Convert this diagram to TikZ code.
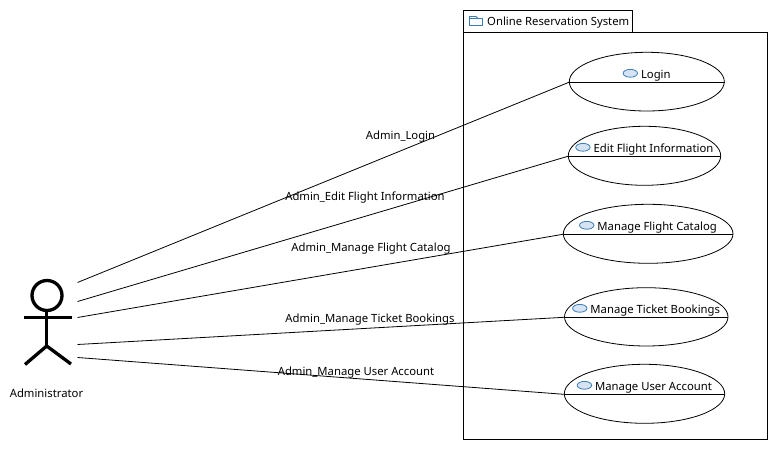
\documentclass[tikz,border=0pt]{standalone}
\usepackage{fontspec}
\setmainfont{Noto Sans}
\usetikzlibrary{shapes.geometric}
\definecolor{iconfill}{HTML}{D5E3F2}
\definecolor{iconline}{HTML}{3A7DB8}
\tikzset{
  x=1pt,y=-1pt,
  every node/.style={font=\fontsize{11.3}{13}\selectfont,inner sep=0pt,text=black},
  uc/.style={draw=black,line width=0.8pt,ellipse,fill=white},
  link/.style={draw=black,line width=0.8pt},
  divider/.style={draw=black,line width=0.8pt},
  actorline/.style={draw=black,line width=3.3pt},
  box/.style={draw=black,line width=0.8pt,fill=white},
  ucicon/.style={draw=iconline,fill=iconfill,line width=0.8pt},
  folder/.style={draw=iconline,fill=white,line width=0.8pt},
  lbl/.style={anchor=base}
}
\newcommand{\ucase}[7]{% name, x1, x2, ytop, ybot, yline, text
  \node[uc,minimum width=#3pt-#2pt,minimum height=#5pt-#4pt] (#1) at ({(#2+#3)/2},{(#4+#5)/2}) {};
  \draw[divider] (#1.west |- 0,#6) -- (#1.east |- 0,#6);
  \node[anchor=base] (#1t) at ({(#2+#3)/2+9},#6-4.2) {#7};
  \draw[ucicon] ([xshift=-10.5pt,yshift=4.8pt]#1t.base west) ellipse [x radius=7.2pt,y radius=3.9pt];
}
\begin{document}
\begin{tikzpicture}
\useasboundingbox (0,0) rectangle (777,449);
\fill[white] (0,0) rectangle (777,449);
% package
\draw[box] (463.5,10.5) rectangle (632.5,32.5);
\draw[box] (463.5,32.5) rectangle (767.5,439);
\draw[folder] (469.5,16.5) -- (476,16.5) -- (478,18.5) -- (482.5,18.5) -- (482.5,25.5) -- (469.5,25.5) -- cycle;
\draw[folder] (469.5,18.5) -- (482.5,18.5);
\node[anchor=base west] (pkg) at (487,26) {Online Reservation System};
% use cases
\ucase{login}{569.3}{724.3}{52.3}{111}{82.3}{Login}
\ucase{edit}{568.3}{720.7}{126.3}{185.3}{156.3}{Edit Flight Information}
\ucase{catalog}{563.3}{733}{204.3}{263.3}{234.3}{Manage Flight Catalog}
\ucase{ticket}{564.5}{728}{287.7}{346}{317.3}{Manage Ticket Bookings}
\ucase{user}{564.3}{724.7}{364.3}{423.3}{394.3}{Manage User Account}
% actor
\coordinate (a1) at (77.5,282.5);
\coordinate (a2) at (77.5,301.5);
\coordinate (a3) at (77.5,317.5);
\coordinate (a4) at (77.5,344.5);
\coordinate (a5) at (77.5,357.5);
\draw[actorline] (47,295.5) circle [radius=15];
\draw[actorline] (23.5,317.3) -- (71.5,317.3);
\draw[actorline] (46.7,311) -- (46.7,346);
\draw[actorline] (25,364.5) -- (46.7,346) -- (71,364);
\node[anchor=base] (actor) at (46.5,397.7) {Administrator};
% connectors
\draw[link] (a1) -- (login.west |- 0,82.3);
\draw[link] (a2) -- (edit.west |- 0,156.3);
\draw[link] (a3) -- (catalog.west |- 0,234.3);
\draw[link] (a4) -- (ticket.west |- 0,317.3);
\draw[link] (a5) -- (user.west |- 0,394.3);
% labels
\node[lbl] (l1) at (400.5,140) {Admin\_Login};
\node[lbl] (l2) at (365,201) {Admin\_Edit Flight Information};
\node[lbl] (l3) at (371,252) {Admin\_Manage Flight Catalog};
\node[lbl] (l4) at (370,323) {Admin\_Manage Ticket Bookings};
\node[lbl] (l5) at (356,375) {Admin\_Manage User Account};
\end{tikzpicture}
\end{document}
